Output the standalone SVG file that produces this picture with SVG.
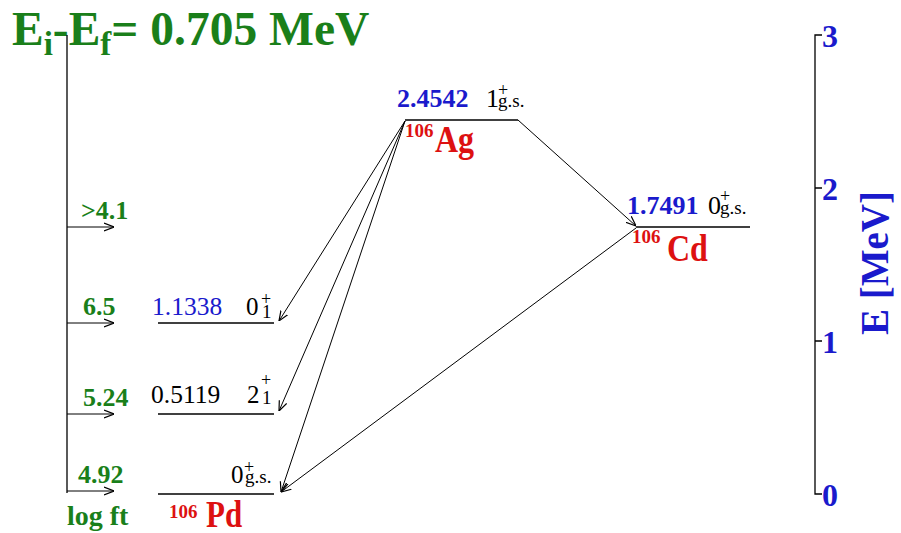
<svg xmlns="http://www.w3.org/2000/svg" width="901" height="533" viewBox="0 0 901 533">
<style>
.ln{stroke:#000;stroke-width:1.3;fill:none}
.ar{stroke:#000;stroke-width:1;fill:none;marker-end:url(#ah)}
.g{fill:#1a7f1a;font-family:"Liberation Serif",serif;font-weight:bold}
.b{fill:#1a1acc;font-family:"Liberation Serif",serif}
.k{fill:#000;font-family:"Liberation Serif",serif}
.r{fill:#dd1111;font-family:"Liberation Serif",serif;font-weight:bold}
.ax{fill:#1a1acc;font-family:"Liberation Serif",serif;font-weight:bold;font-size:32px}
.sp{font-size:18px}
.sb{font-size:19px}
</style>
<defs>
<marker id="ah" viewBox="0 0 10 10" refX="10" refY="5" markerWidth="10" markerHeight="10" markerUnits="userSpaceOnUse" orient="auto">
<path d="M0,1 L10,5 L0,9" fill="none" stroke="#000" stroke-width="1.2"/>
</marker>
</defs>
<rect width="901" height="533" fill="#fff"/>
<g id="title">
<text class="g" x="12" y="45" font-size="47.5">E<tspan font-size="33" dy="10">i</tspan><tspan dy="-10">-E</tspan><tspan font-size="33" dy="10">f</tspan><tspan dy="-10">= 0.705 MeV</tspan></text>
</g>
<g id="logft-axis">
<line class="ln" x1="67" y1="35" x2="67" y2="493"/>
<text class="g" x="81" y="219" font-size="26">&gt;4.1</text>
<text class="g" x="83" y="315" font-size="26">6.5</text>
<text class="g" x="83" y="406" font-size="26">5.24</text>
<text class="g" x="78" y="483" font-size="26">4.92</text>
<text class="g" x="67" y="525" font-size="28">log ft</text>
</g>
<g id="energy-axis">
<path class="ln" d="M822,35 H815 V494 H822 M815,188 H822 M815,341 H822"/>
<text class="ax" x="822" y="47">3</text>
<text class="ax" x="822" y="200">2</text>
<text class="ax" x="822" y="353">1</text>
<text class="ax" x="822" y="506">0</text>
<text transform="translate(888,263) rotate(-90)" text-anchor="middle" font-size="39" font-family="Liberation Serif,serif" font-weight="bold" fill="#1a1acc">E [MeV]</text>
</g>
<g id="ag106">
<line class="ln" x1="405" y1="120" x2="518" y2="120"/>
<text class="b" x="397" y="107" font-size="26" font-weight="bold">2.4542</text>
<text class="k" x="486" y="107" font-size="26">1<tspan class="sp" x="498" y="96">+</tspan><tspan class="sb" x="498" y="107">g.s.</tspan></text>
<text class="r" x="405" y="137" font-size="19">106</text>
<text class="r" transform="translate(435,152) scale(1,1.2)" font-size="32">Ag</text>
</g>
<g id="cd106">
<line class="ln" x1="636" y1="227" x2="750" y2="227"/>
<text class="b" x="627" y="214" font-size="26" font-weight="bold">1.7491</text>
<text class="k" x="708" y="214" font-size="26">0<tspan class="sp" x="720" y="202">+</tspan><tspan class="sb" x="720" y="214">g.s.</tspan></text>
<text class="r" x="632" y="243" font-size="19">106</text>
<text class="r" transform="translate(667,261) scale(1,1.2)" font-size="32">Cd</text>
</g>
<g id="pd106-1">
<line class="ln" x1="158" y1="323" x2="274" y2="323"/>
<text class="b" x="152" y="315" font-size="25.5">1.1338</text>
<text class="k" x="246" y="315" font-size="25">0<tspan class="sp" x="261" y="305">+</tspan><tspan class="sb" x="262" y="318">1</tspan></text>
</g>
<g id="pd106-2">
<line class="ln" x1="158" y1="414" x2="274" y2="414"/>
<text class="k" x="151" y="403" font-size="25.5">0.5119</text>
<text class="k" x="247" y="403" font-size="25">2<tspan class="sp" x="261" y="386">+</tspan><tspan class="sb" x="262" y="404">1</tspan></text>
</g>
<g id="pd106-gs">
<line class="ln" x1="158" y1="494" x2="274" y2="494"/>
<text class="k" x="231" y="483" font-size="25">0<tspan class="sp" x="244" y="473">+</tspan><tspan class="sb" x="245" y="483">g.s.</tspan></text>
<text class="r" x="169" y="518" font-size="19">106</text>
<text class="r" transform="translate(206,527) scale(1,1.2)" font-size="31">Pd</text>
</g>
<g id="connectors">
<line class="ar" x1="67" y1="227" x2="114" y2="227"/>
<line class="ar" x1="67" y1="323" x2="114" y2="323"/>
<line class="ar" x1="67" y1="414" x2="114" y2="414"/>
<line class="ar" x1="67" y1="491" x2="114" y2="491"/>
<line class="ar" x1="518" y1="120" x2="636" y2="226"/>
<line class="ar" x1="405" y1="121" x2="279" y2="321"/>
<line class="ar" x1="405" y1="121" x2="279" y2="411"/>
<line class="ar" x1="405" y1="121" x2="281" y2="492"/>
<line class="ar" x1="636" y1="228" x2="281" y2="492"/>
</g>
</svg>
